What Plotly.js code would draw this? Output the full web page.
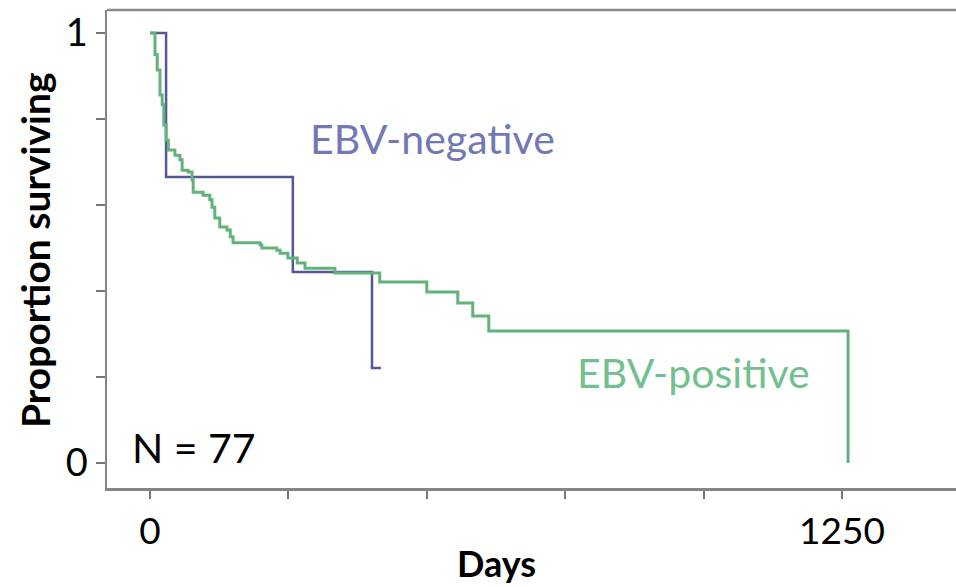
<!DOCTYPE html>
<html>
<head>
<meta charset="utf-8">
<script src="https://cdn.plot.ly/plotly-3.0.1.min.js"></script>
<style>html,body{margin:0;padding:0;background:#fff;}#chart{width:956px;height:587px;}</style>
</head>
<body>
<div id="chart"></div>
<script>
// EBV-negative Kaplan-Meier steps (day of event, survival after event)
const negDays = [0, 29, 258, 401, 417];
const negSurv = [1, 0.665, 0.444, 0.221, 0.221];

// EBV-positive Kaplan-Meier steps
const posDays = [0, 5, 9, 13, 18, 22, 25, 29, 33, 45, 54, 58, 69, 76, 78, 96, 108, 112, 117, 126, 139, 145, 150, 199, 202, 229, 235, 249, 266, 280, 334, 415, 500, 556, 583, 612, 1261];
const posSurv = [1, 1, 0.95, 0.914, 0.856, 0.833, 0.786, 0.751, 0.728, 0.716, 0.705, 0.681, 0.677, 0.658, 0.630, 0.623, 0.612, 0.595, 0.570, 0.549, 0.542, 0.526, 0.512, 0.507, 0.500, 0.495, 0.488, 0.477, 0.465, 0.453, 0.442, 0.421, 0.398, 0.372, 0.342, 0.307, 0];

const xTickVals = [0, 250, 500, 750, 1000, 1250];
const xTickText = ['0', '', '', '', '', '1250'];
const yTickVals = [0, 0.2, 0.4, 0.6, 0.8, 1];
const yTickText = ['0', '', '', '', '', '1'];

const FONT = 'Lato, "Open Sans", sans-serif';

const traces = [
  {x: negDays, y: negSurv, mode: 'lines', line: {shape: 'hv', color: 'rgb(82,88,152)', width: 2.5}, name: 'EBV-negative', showlegend: false, hoverinfo: 'skip'},
  {x: posDays, y: posSurv, mode: 'lines', line: {shape: 'hv', color: 'rgb(98,178,122)', width: 3}, name: 'EBV-positive', showlegend: false, hoverinfo: 'skip'}
];

const layout = {
  width: 956, height: 587,
  margin: {l: 107, r: 0, t: 10, b: 99},
  paper_bgcolor: '#fff', plot_bgcolor: '#fff',
  font: {family: FONT, color: '#000', size: 37},
  xaxis: {
    range: [-77.7, 1456], showgrid: false, zeroline: false,
    showline: true, linecolor: '#858585', linewidth: 2.5,
    ticks: 'outside', ticklen: 8, tickwidth: 2, tickcolor: '#777',
    tickvals: xTickVals, ticktext: xTickText,
    tickfont: {family: FONT, size: 37, color: '#000'},
    ticklabelstandoff: 1
  },
  yaxis: {
    range: [-0.058, 1.0535], showgrid: false, zeroline: false,
    showline: true, linecolor: '#858585', linewidth: 2.5,
    ticks: 'outside', ticklen: 9, tickwidth: 2, tickcolor: '#777',
    tickvals: yTickVals, ticktext: yTickText,
    tickfont: {family: FONT, size: 38, color: '#000'},
    ticklabelstandoff: 0
  },
  shapes: [
    {type: 'line', xref: 'paper', yref: 'paper', x0: 0, x1: 1, y0: 1, y1: 1, line: {color: '#8a8a8a', width: 2.5}}
  ],
  annotations: [
    {text: 'EBV-negative', xref: 'x', yref: 'y', x: 285, y: 0.755, xanchor: 'left', yanchor: 'middle', showarrow: false, font: {family: FONT, size: 41, color: '#7278b5'}},
    {text: 'EBV-positive', xref: 'x', yref: 'y', x: 768, y: 0.2105, xanchor: 'left', yanchor: 'middle', showarrow: false, font: {family: FONT, size: 41, color: '#72c08e'}},
    {text: 'N = 77', xref: 'x', yref: 'y', x: -36, y: 0.037, xanchor: 'left', yanchor: 'middle', showarrow: false, font: {family: FONT, size: 41, color: '#000'}},
    {text: '<b>Days</b>', xref: 'paper', yref: 'paper', x: 0.459, y: -0.156, xanchor: 'center', yanchor: 'middle', showarrow: false, font: {family: FONT, size: 36, color: '#000'}},
    {text: '<b>Proportion surviving</b>', xref: 'paper', yref: 'paper', x: -0.0848, y: 0.498, xanchor: 'center', yanchor: 'middle', textangle: -90, showarrow: false, font: {family: FONT, size: 39, color: '#000'}}
  ]
};

Plotly.newPlot('chart', traces, layout, {staticPlot: true, displayModeBar: false});
</script>
</body>
</html>
